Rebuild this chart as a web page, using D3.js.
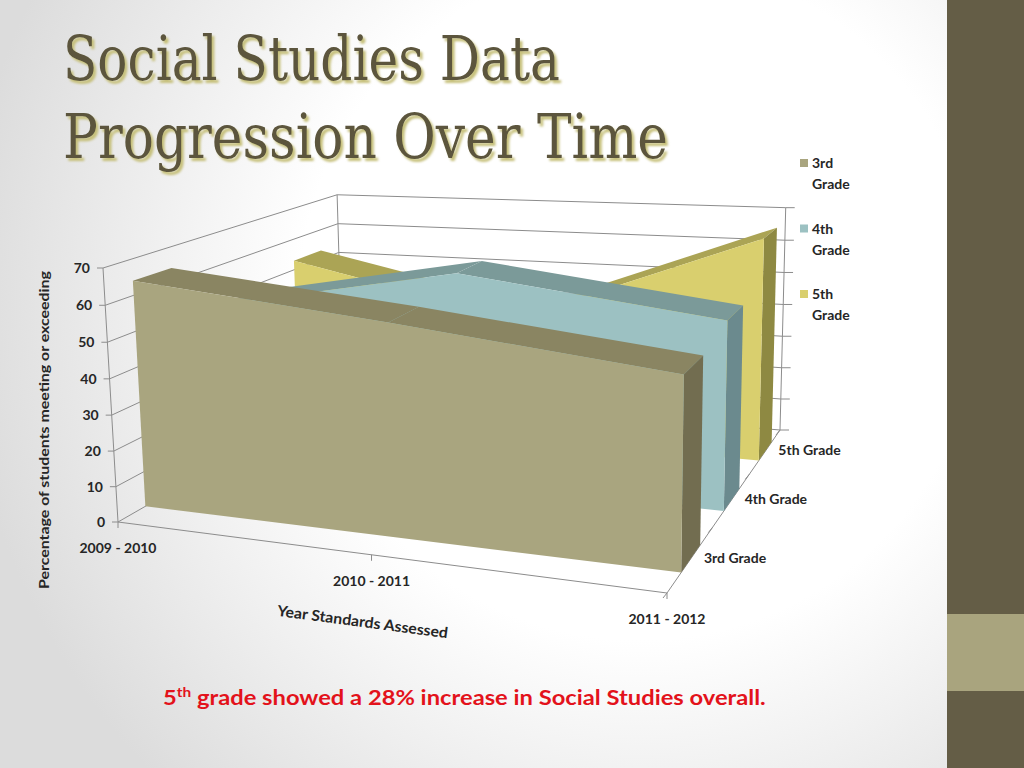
<!DOCTYPE html>
<html>
<head>
<meta charset="utf-8">
<title>Social Studies Data Progression Over Time</title>
<script src="https://cdnjs.cloudflare.com/ajax/libs/d3/7.8.5/d3.min.js"></script>
<style>
  html, body { margin: 0; padding: 0; background: #fff; }
  svg { display: block; }
  .lbl { font-family: Lato, "Open Sans", sans-serif; font-weight: 700; font-size: 14px; fill: #262626; }
  .grid { stroke: #8c8c8c; stroke-width: 1; fill: none; }
</style>
</head>
<body>
<svg id="slide" width="1024" height="768"></svg>
<script>
// data
var years  = ["2009 - 2010", "2010 - 2011", "2011 - 2012"];
var grades = ["3rd Grade", "4th Grade", "5th Grade"];
var grade3 = [64, 57, 49];
var grade4 = [48, 61, 52];
var grade5 = [53, 38, 66];
var yTicks = [0, 10, 20, 30, 40, 50, 60, 70];
var legendNames = [["3rd", "Grade"], ["4th", "Grade"], ["5th", "Grade"]];

var seriesVals = [grade3, grade4, grade5];
var frontCol = ["#A9A57F", "#9CC1C2", "#D9CF6E"];
var topCol   = ["#8A8562", "#7B9A99", "#ABA455"];
var sideCol  = ["#726D50", "#6B8A8E", "#8E8942"];

var svg = d3.select("#slide");

// background + side bar
var defs = svg.append("defs");
var rg = defs.append("radialGradient").attr("id", "bg")
  .attr("gradientUnits", "userSpaceOnUse")
  .attr("cx", 640).attr("cy", 300).attr("r", 680);
rg.append("stop").attr("offset", 0.5).attr("stop-color", "#ffffff");
rg.append("stop").attr("offset", 1).attr("stop-color", "#dcdcdc");
defs.append("filter").attr("id", "shadow")
  .append("feDropShadow").attr("dx", 2.5).attr("dy", 3).attr("stdDeviation", 0.8)
  .attr("flood-color", "#C6C07A").attr("flood-opacity", 1);

svg.append("rect").attr("width", 1024).attr("height", 768).attr("fill", "url(#bg)");
svg.append("rect").attr("x", 947).attr("y", 0).attr("width", 77).attr("height", 768).attr("fill", "#645D46");
svg.append("rect").attr("x", 947).attr("y", 614).attr("width", 77).attr("height", 77).attr("fill", "#A9A47E");

// title
var titleLines = [["Social Studies Data", 80, 497], ["Progression Over Time", 158, 605]];
titleLines.forEach(function (t) {
  svg.append("text")
    .attr("x", 63).attr("y", t[1])
    .attr("textLength", t[2]).attr("lengthAdjust", "spacingAndGlyphs")
    .attr("filter", "url(#shadow)")
    .style("font-family", "'DejaVu Serif Condensed', 'DejaVu Serif', serif")
    .style("font-stretch", "condensed")
    .style("font-size", "62px")
    .attr("fill", "#5B553C")
    .text(t[0]);
});

// 3d projection of the chart box (X, Y, Z all in 0..1)
var origin = [118, 522];
var ex = [549, 71], ey = [-15, -254], ez = [225, -129];
var px = -0.142, py = -0.0316, pz = 0.293;
function project(X, Y, Z) {
  var w = 1 + px * X + py * Y + pz * Z;
  return [origin[0] + (X * (1 + px) * ex[0] + Y * (1 + py) * ey[0] + Z * (1 + pz) * ez[0]) / w,
          origin[1] + (X * (1 + px) * ex[1] + Y * (1 + py) * ey[1] + Z * (1 + pz) * ez[1]) / w];
}

var x = d3.scalePoint().domain(years).range([0, 1]);
var y = d3.scaleLinear().domain([0, 70]).range([0, 1]);
var z = d3.scaleBand().domain(grades).range([0, 1]).paddingInner(0.58).paddingOuter(0.29);

var line = d3.line();
var poly = function (pts) { return line(pts) + "Z"; };

var walls = svg.append("g");
// gridlines on the left wall and back wall
yTicks.forEach(function (v) {
  walls.append("path").attr("class", "grid")
    .attr("d", line([project(0, y(v), 0), project(0, y(v), 1), project(1, y(v), 1)]));
});
walls.append("path").attr("class", "grid").attr("d", line([project(0, 0, 1), project(0, 1, 1)]));
walls.append("path").attr("class", "grid").attr("d", line([project(1, 0, 1), project(1, 1, 1)]));
// value axis
walls.append("path").attr("class", "grid").attr("d", line([project(0, 0, 0), project(0, 1, 0)]));
yTicks.forEach(function (v) {
  var p = project(0, y(v), 0);
  walls.append("path").attr("class", "grid").attr("d", line([p, [p[0] - 6, p[1]]]));
  var q = project(1, y(v), 1);
  walls.append("path").attr("class", "grid").attr("d", line([q, [q[0] + 9, q[1]]]));
  walls.append("text").attr("class", "lbl")
    .attr("x", p[0] - 13).attr("y", p[1] + 5).attr("text-anchor", "end").text(v);
});
// category axis on the front floor edge
walls.append("path").attr("class", "grid").attr("d", line([project(0, 0, 0), project(1, 0, 0)]));
years.forEach(function (c) {
  var p = project(x(c), 0, 0);
  walls.append("path").attr("class", "grid").attr("d", line([p, [p[0], p[1] + 6]]));
  walls.append("text").attr("class", "lbl")
    .attr("x", p[0]).attr("y", p[1] + 31).attr("text-anchor", "middle").text(c);
});
// series (depth) axis
walls.append("path").attr("class", "grid").attr("d", line([project(1, 0, 0), project(1, 0, 1)]));
[0, 1 / 3, 2 / 3, 1].forEach(function (d) {
  var p = project(1, 0, d);
  walls.append("path").attr("class", "grid").attr("d", line([p, [p[0] - 4, p[1] + 5]]));
});
grades.forEach(function (g) {
  var p = project(1, 0, z(g) + z.bandwidth() / 2);
  walls.append("text").attr("class", "lbl")
    .attr("x", p[0] + 13).attr("y", p[1] + 4).text(g);
});

// area slabs, back to front
var areas = svg.append("g");
d3.range(grades.length).reverse().forEach(function (i) {
  var g = grades[i], vals = seriesVals[i];
  var zf = z(g), zb = z(g) + z.bandwidth();
  var pts = years.map(function (c, k) { return [x(c), y(vals[k])]; });
  for (var k = 0; k < pts.length - 1; k++) {
    areas.append("path").attr("fill", topCol[i])
      .attr("d", poly([project(pts[k][0], pts[k][1], zf), project(pts[k + 1][0], pts[k + 1][1], zf),
                       project(pts[k + 1][0], pts[k + 1][1], zb), project(pts[k][0], pts[k][1], zb)]));
  }
  var last = pts[pts.length - 1];
  areas.append("path").attr("fill", sideCol[i])
    .attr("d", poly([project(last[0], 0, zf), project(last[0], last[1], zf),
                     project(last[0], last[1], zb), project(last[0], 0, zb)]));
  var front = pts.map(function (p) { return project(p[0], p[1], zf); });
  front.push(project(last[0], 0, zf), project(pts[0][0], 0, zf));
  areas.append("path").attr("fill", frontCol[i]).attr("d", poly(front));
});

// axis titles
svg.append("text").attr("class", "lbl")
  .attr("transform", "translate(49,430) rotate(-90)")
  .attr("text-anchor", "middle").attr("textLength", 318).attr("lengthAdjust", "spacingAndGlyphs")
  .text("Percentage of students meeting or exceeding");
svg.append("text").attr("class", "lbl")
  .attr("transform", "translate(362,627) rotate(7.5)")
  .attr("text-anchor", "middle").style("font-size", "15px")
  .attr("textLength", 172).attr("lengthAdjust", "spacingAndGlyphs")
  .text("Year Standards Assessed");

// legend
legendNames.forEach(function (n, i) {
  var cy = 163 + i * 65.5;
  svg.append("rect").attr("x", 800).attr("y", cy - 4).attr("width", 8).attr("height", 8).attr("fill", frontCol[i]);
  svg.append("text").attr("class", "lbl").attr("x", 812).attr("y", cy + 5).text(n[0]);
  svg.append("text").attr("class", "lbl").attr("x", 812).attr("y", cy + 26).text(n[1]);
});

// note
var note = svg.append("text")
  .attr("x", 163).attr("y", 705)
  .style("font-family", "Lato, 'Open Sans', sans-serif").style("font-weight", 700)
  .style("font-size", "20px").attr("fill", "#E3121B");
note.append("tspan").text("5");
note.append("tspan").attr("dy", -8).style("font-size", "13px").text("th");
note.append("tspan").attr("dy", 8).text(" grade showed a 28% increase in Social Studies overall.");
var bw = note.node().getBBox().width;
note.attr("transform", "translate(163,0) scale(" + (603 / bw) + ",1) translate(-163,0)");
</script>
</body>
</html>
